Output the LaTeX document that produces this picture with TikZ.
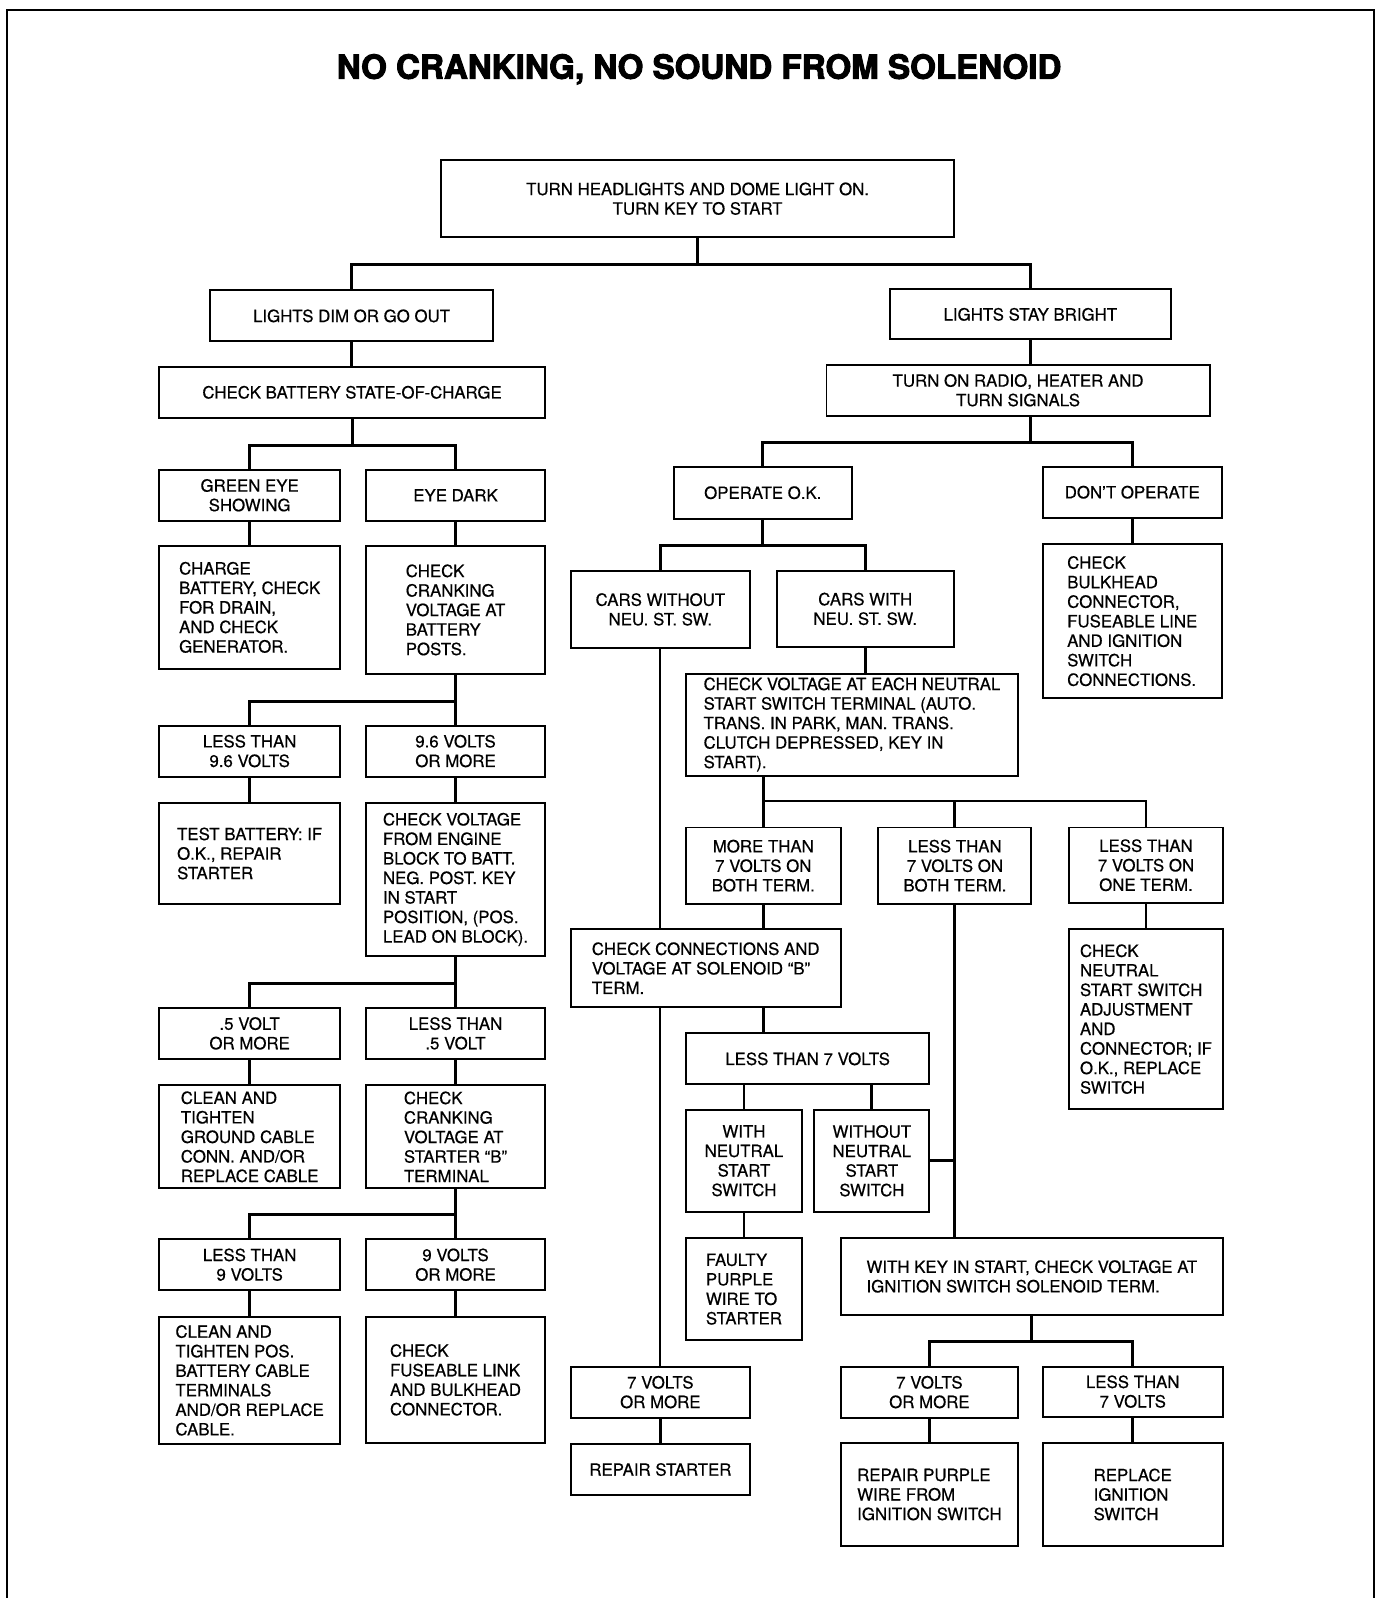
\documentclass[tikz,border=0pt]{standalone}
\usepackage{fontspec}
\setmainfont{TeX Gyre Heros}[FakeBold=0.5]
\newfontfamily\heavyfont{TeX Gyre Heros}[FakeBold=3]
\usepackage{tikz}

\begin{document}
\begin{tikzpicture}[
    x=0.2mm,
    y=-0.2mm,
    every node/.style={font=\fontsize{9.4}{10.9}\selectfont},
    box/.style={draw=black, line width=1.1pt, inner sep=0pt, align=center, anchor=north west},
    lbox/.style={box, align=left},
    sz/.style 2 args={minimum width=#1*0.2mm, minimum height=#2*0.2mm},
    link/.style={draw=black, line width=1.6pt},
    thinlink/.style={draw=black, line width=1.1pt}
  ]
    \useasboundingbox (0,0) rectangle (1354,1568);
    \draw[line width=1.1pt] (7,1568) -- (7,10) -- (1348,10) -- (1348,1568);

    \node[font=\heavyfont\bfseries\fontsize{18.5}{22}\selectfont] (title) at (686,68)
      {NO CRANKING, NO SOUND FROM SOLENOID};

    % first checks
    \node[box, sz={503}{76}] (top) at (432,156)
      {TURN HEADLIGHTS AND DOME LIGHT ON.\\TURN KEY TO START};
    \node[box, sz={278}{50}] (dim) at (205,284) {LIGHTS DIM OR GO OUT};
    \node[box, sz={276}{49}] (bright) at (872,283) {LIGHTS STAY BRIGHT};
    \node[box, sz={379}{50}] (batt) at (155,359) {CHECK BATTERY STATE-OF-CHARGE};
    \node[box, sz={376}{50}] (radio) at (810,357) {TURN ON RADIO, HEATER AND\\TURN SIGNALS};

    % battery side
    \node[box, sz={178}{50}] (green) at (155,460) {GREEN EYE\\SHOWING};
    \node[box, sz={176}{50}] (dark) at (358,460) {EYE DARK};
    \node[lbox, sz={178}{120}] (charge) at (155,535)
      {CHARGE\\BATTERY, CHECK\\FOR DRAIN,\\AND CHECK\\GENERATOR.};
    \node[lbox, sz={176}{125}] (crank) at (358,535)
      {CHECK\\CRANKING\\VOLTAGE AT\\BATTERY\\POSTS.};
    \node[box, sz={178}{50}] (lt96) at (155,711) {LESS THAN\\9.6 VOLTS};
    \node[box, sz={176}{50}] (ge96) at (358,711) {9.6 VOLTS\\OR MORE};
    \node[lbox, sz={178}{99}] (testb) at (155,787)
      {TEST BATTERY: IF\\O.K., REPAIR\\STARTER};
    \node[lbox, sz={176}{150}] (engblk) at (358,787)
      {CHECK VOLTAGE\\FROM ENGINE\\BLOCK TO BATT.\\NEG. POST. KEY\\IN START\\POSITION, (POS.\\LEAD ON BLOCK).};
    \node[box, sz={178}{50}] (ge05) at (155,988) {.5 VOLT\\OR MORE};
    \node[box, sz={176}{50}] (lt05) at (358,988) {LESS THAN\\.5 VOLT};
    \node[lbox, sz={178}{101}] (clean) at (155,1064)
      {CLEAN AND\\TIGHTEN\\GROUND CABLE\\CONN. AND/OR\\REPLACE CABLE};
    \node[lbox, sz={176}{101}] (crankb) at (358,1064)
      {CHECK\\CRANKING\\VOLTAGE AT\\STARTER ``B''\\TERMINAL};
    \node[box, sz={178}{50}] (lt9) at (155,1215) {LESS THAN\\9 VOLTS};
    \node[box, sz={176}{50}] (ge9) at (358,1215) {9 VOLTS\\OR MORE};
    \node[lbox, sz={178}{125}] (cleanpos) at (155,1291)
      {CLEAN AND\\TIGHTEN POS.\\BATTERY CABLE\\TERMINALS\\AND/OR REPLACE\\CABLE.};
    \node[lbox, sz={176}{124}] (fuse) at (358,1291)
      {CHECK\\FUSEABLE LINK\\AND BULKHEAD\\CONNECTOR.};

    % accessory side
    \node[box, sz={175}{51}] (opok) at (660,457) {OPERATE O.K.};
    \node[box, sz={176}{50}] (dont) at (1022,457) {DON'T OPERATE};
    \node[lbox, sz={176}{151}] (bulk) at (1022,533)
      {CHECK\\BULKHEAD\\CONNECTOR,\\FUSEABLE LINE\\AND IGNITION\\SWITCH\\CONNECTIONS.};
    \node[box, sz={176}{76}] (carswo) at (559,559) {CARS WITHOUT\\NEU. ST. SW.};
    \node[box, sz={174}{75}] (carsw) at (761,559) {CARS WITH\\NEU. ST. SW.};
    \node[lbox, sz={326}{100}] (neutral) at (672,660)
      {CHECK VOLTAGE AT EACH NEUTRAL\\START SWITCH TERMINAL (AUTO.\\TRANS. IN PARK, MAN. TRANS.\\CLUTCH DEPRESSED, KEY IN\\START).};
    \node[box, sz={152}{75}] (mtboth) at (672,811) {MORE THAN\\7 VOLTS ON\\BOTH TERM.};
    \node[box, sz={150}{75}] (ltboth) at (861,811) {LESS THAN\\7 VOLTS ON\\BOTH TERM.};
    \node[box, sz={151}{74}] (ltone) at (1048,811) {LESS THAN\\7 VOLTS ON\\ONE TERM.};
    \node[lbox, sz={151}{176}] (chkneu) at (1048,911)
      {CHECK\\NEUTRAL\\START SWITCH\\ADJUSTMENT\\AND\\CONNECTOR; IF\\O.K., REPLACE\\SWITCH};
    \node[lbox, sz={265}{76}] (solb) at (559,911)
      {CHECK CONNECTIONS AND\\VOLTAGE AT SOLENOID ``B''\\TERM.};
    \node[box, sz={239}{50}] (lt7) at (672,1013) {LESS THAN 7 VOLTS};
    \node[box, sz={114}{100}] (withns) at (672,1088) {WITH\\NEUTRAL\\START\\SWITCH};
    \node[box, sz={113}{100}] (withoutns) at (798,1088) {WITHOUT\\NEUTRAL\\START\\SWITCH};
    \node[lbox, sz={114}{100}] (faulty) at (672,1214) {FAULTY\\PURPLE\\WIRE TO\\STARTER};
    \node[lbox, sz={375}{75}] (withkey) at (824,1214)
      {WITH KEY IN START, CHECK VOLTAGE AT\\IGNITION SWITCH SOLENOID TERM.};
    \node[box, sz={176}{50}] (seven) at (559,1340) {7 VOLTS\\OR MORE};
    \node[box, sz={176}{50}] (repstart) at (559,1416) {REPAIR STARTER};
    \node[box, sz={174}{50}] (sevenign) at (824,1340) {7 VOLTS\\OR MORE};
    \node[box, sz={177}{49}] (ltign) at (1022,1340) {LESS THAN\\7 VOLTS};
    \node[lbox, sz={174}{101}] (reppurple) at (824,1415)
      {REPAIR PURPLE\\WIRE FROM\\IGNITION SWITCH};
    \node[lbox, sz={177}{101}] (replign) at (1022,1415)
      {REPLACE\\IGNITION\\SWITCH};

    % connectors, left
    \draw[link] (top.south) -- ++(0,26) -| (dim.north);
    \draw[link] (top.south) -- ++(0,26) -| (bright.north);
    \draw[link] (dim.south) -- (dim.south |- batt.north);
    \draw[link] (batt.south) -- ++(0,26) -| (green.north);
    \draw[link] (batt.south) -- ++(0,26) -| (dark.north);
    \draw[link] (green.south) -- (charge.north);
    \draw[link] (dark.south) -- (crank.north);
    \draw[link] (crank.south) -- ++(0,26) -| (lt96.north);
    \draw[link] (crank.south) -- (ge96.north);
    \draw[link] (lt96.south) -- (testb.north);
    \draw[link] (ge96.south) -- (engblk.north);
    \draw[link] (engblk.south) -- ++(0,26) -| (ge05.north);
    \draw[link] (engblk.south) -- (lt05.north);
    \draw[link] (ge05.south) -- (clean.north);
    \draw[link] (lt05.south) -- (crankb.north);
    \draw[link] (crankb.south) -- ++(0,25) -| (lt9.north);
    \draw[link] (crankb.south) -- (ge9.north);
    \draw[link] (lt9.south) -- (cleanpos.north);
    \draw[link] (ge9.south) -- (fuse.north);

    % connectors, right
    \draw[link] (bright.south) -- (bright.south |- radio.north);
    \draw[link] (bright.south |- radio.south) -- ++(0,25) -| (opok.north);
    \draw[link] (bright.south |- radio.south) -- ++(0,25) -| (dont.north);
    \draw[link] (dont.south) -- (bulk.north);
    \draw[link] (opok.south) -- ++(0,25) -| (carswo.north);
    \draw[link] (opok.south) -- ++(0,25) -| (carsw.north);
    \draw[link] (carsw.south) -- (carsw.south |- neutral.north);
    \draw[link] (neutral.south -| mtboth.north) -- (mtboth.north);
    \draw[link] (mtboth.north) ++(0,-25) -| (ltboth.north);
    \draw[link] (mtboth.north) ++(0,-25) -| (ltone.north);
    \draw[link] (ltone.south) -- (chkneu.north);
    \draw[thinlink] (carswo.south) -- (carswo.south |- solb.north);
    \draw[thinlink] (carswo.south |- solb.south) -- (seven.north);
    \draw[link] (mtboth.south) -- (mtboth.south |- solb.north);
    \draw[link] (mtboth.south |- solb.south) -- (mtboth.south |- lt7.north);
    \draw[link] (lt7.south -| withns.north) -- (withns.north);
    \draw[link] (lt7.south -| withoutns.north) -- (withoutns.north);
    \draw[link] (withns.south) -- (faulty.north);
    \draw[link] (ltboth.south) -- (ltboth.south |- withkey.north);
    \draw[link] (withoutns.east) -- (withoutns.east -| ltboth.south);
    \draw[link] (withkey.south) -- ++(0,25) -| (sevenign.north);
    \draw[link] (withkey.south) -- ++(0,25) -| (ltign.north);
    \draw[link] (sevenign.south) -- (reppurple.north);
    \draw[link] (ltign.south) -- (replign.north);
    \draw[link] (seven.south) -- (repstart.north);
  \end{tikzpicture}
\end{document}
